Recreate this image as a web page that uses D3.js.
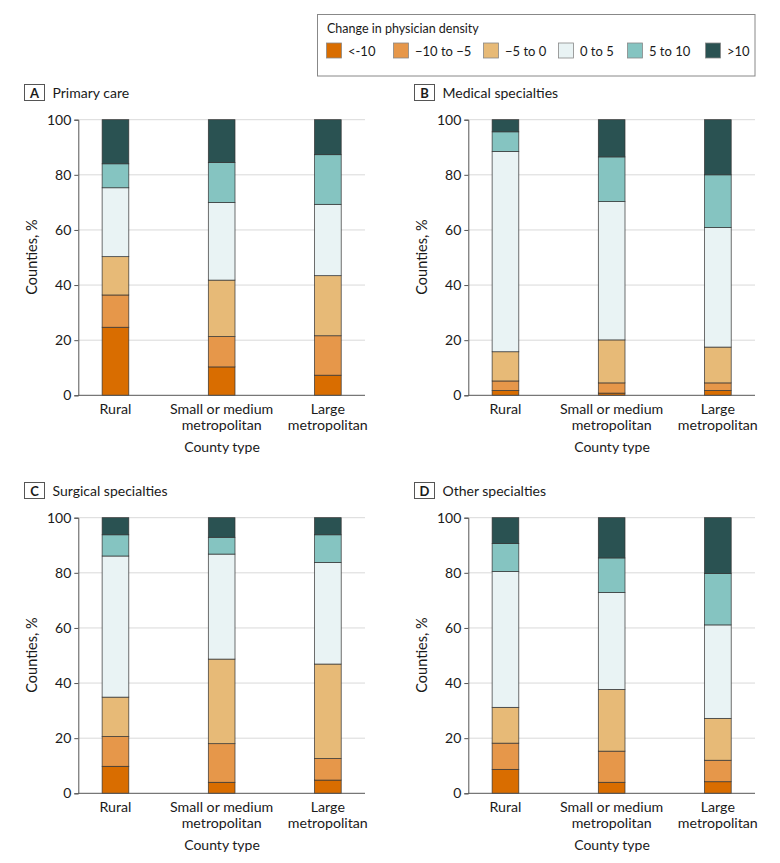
<!DOCTYPE html>
<html><head><meta charset="utf-8">
<script src="https://cdn.jsdelivr.net/npm/d3@7"></script>
<style>body{margin:0;background:#fff;}svg{display:block;font-family:Lato,"Open Sans",sans-serif;}</style>
</head><body><svg id="c" width="780" height="863"></svg>
<script>
const categories = ["Rural", "Small or medium metropolitan", "Large metropolitan"];
const catLines = [["Rural"], ["Small or medium", "metropolitan"], ["Large", "metropolitan"]];
const seriesNames = ["<-10", "−10 to −5", "−5 to 0", "0 to 5", "5 to 10", ">10"];
const seriesColors = ["#d96d00", "#e6974a", "#e7ba77", "#e9f3f4", "#85c4c1", "#2a5252"];
const yTicks = [0, 20, 40, 60, 80, 100];
const panelLetters = ["A", "B", "C", "D"];
const panelTitles = ["Primary care", "Medical specialties", "Surgical specialties", "Other specialties"];
// values per panel: rows = county type, columns = series (<-10 ... >10)
const primaryCare = [[24.7, 11.7, 13.9, 25.0, 8.7, 16.0], [10.3, 11.0, 20.5, 28.2, 14.5, 15.5], [7.3, 14.3, 21.8, 25.9, 18.0, 12.7]];
const medical = [[1.7, 3.5, 10.6, 72.7, 7.1, 4.4], [0.8, 3.7, 15.6, 50.2, 16.2, 13.5], [1.7, 2.8, 13.0, 43.4, 19.1, 20.0]];
const surgical = [[9.8, 10.8, 14.3, 51.2, 7.7, 6.2], [4.0, 14.0, 30.7, 38.1, 6.1, 7.1], [4.8, 7.8, 34.3, 36.9, 10.0, 6.2]];
const other = [[8.7, 9.5, 13.0, 49.3, 10.1, 9.4], [4.0, 11.3, 22.4, 35.2, 12.5, 14.6], [4.2, 7.8, 15.2, 33.9, 18.6, 20.3]];
const panelData = [primaryCare, medical, surgical, other];

const svg = d3.select("#c");
const textCol = "#1a1a1a";

// Legend
const lg = svg.append("g");
lg.append("rect").attr("x", 317.5).attr("y", 14.5).attr("width", 437.5).attr("height", 61.5)
  .attr("fill", "#fff").attr("stroke", "#888").attr("stroke-width", 1);
lg.append("text").attr("x", 327).attr("y", 33).attr("font-size", 12.5).attr("fill", textCol).text("Change in physician density");
const legX = [326, 393, 483, 558, 627, 705];
seriesNames.forEach((n, i) => {
  lg.append("rect").attr("x", legX[i] + 0.5).attr("y", 43).attr("width", 15).attr("height", 15)
    .attr("fill", seriesColors[i]).attr("stroke", "#888").attr("stroke-width", 0.8);
  lg.append("text").attr("x", legX[i] + 22).attr("y", 55.5).attr("font-size", 13).attr("fill", textCol).text(n);
});

const panels = [{x: 0, y: 0}, {x: 390, y: 0}, {x: 0, y: 398}, {x: 390, y: 398}];
panels.forEach((p, pi) => {
  const g = svg.append("g").attr("transform", `translate(${p.x},${p.y})`);
  const y = d3.scaleLinear().domain([0, 100]).range([395.3, 119.7]);
  const x = d3.scalePoint().domain(categories).range([78.3, 365]).padding(0.35);
  const bw = 26.7;
  // title
  g.append("rect").attr("x", 24.5).attr("y", 84.5).attr("width", 20).attr("height", 16)
    .attr("fill", "#fff").attr("stroke", "#555").attr("stroke-width", 1);
  g.append("text").attr("x", 34.5).attr("y", 97.5).attr("text-anchor", "middle").attr("font-size", 13)
    .attr("font-weight", "bold").attr("fill", textCol).text(panelLetters[pi]);
  g.append("text").attr("x", 52.5).attr("y", 97.5).attr("font-size", 14).attr("fill", textCol).text(panelTitles[pi]);
  // grid
  g.selectAll("line.grid").data(yTicks.filter(t => t > 0)).enter().append("line")
    .attr("x1", 78.3).attr("x2", 365).attr("y1", d => y(d)).attr("y2", d => y(d))
    .attr("stroke", "#d9d9d9").attr("stroke-width", 1);
  // y axis
  const ya = g.append("g").attr("transform", "translate(78.3,0)")
    .call(d3.axisLeft(y).tickValues(yTicks).tickSize(4).tickPadding(3));
  ya.select(".domain").attr("stroke", "#555");
  ya.selectAll(".tick line").attr("stroke", "#555");
  ya.selectAll("text").attr("font-size", 14).attr("fill", textCol).attr("font-family", "Lato,'Open Sans',sans-serif");
  // bars
  panelData[pi].forEach((row, ci) => {
    let cum = 0;
    row.forEach((v, si) => {
      const y0 = cum, y1 = cum + v; cum = y1;
      g.append("rect").attr("x", x(categories[ci]) - bw / 2).attr("y", y(y1)).attr("width", bw)
        .attr("height", y(y0) - y(y1)).attr("fill", seriesColors[si])
        .attr("stroke", "#333").attr("stroke-width", 0.7);
    });
  });
  // x axis line
  g.append("line").attr("x1", 78.3).attr("x2", 365).attr("y1", 395.3).attr("y2", 395.3)
    .attr("stroke", "#555").attr("stroke-width", 1);
  // category labels
  categories.forEach((c, ci) => {
    const t = g.append("text").attr("text-anchor", "middle").attr("font-size", 14.2).attr("fill", textCol);
    catLines[ci].forEach((ln, li) => {
      t.append("tspan").attr("x", x(c)).attr("y", 414 + li * 16).text(ln);
    });
  });
  g.append("text").attr("x", 222).attr("y", 451.5).attr("text-anchor", "middle").attr("font-size", 14)
    .attr("fill", textCol).text("County type");
  g.append("text").attr("transform", "translate(37,257) rotate(-90)").attr("text-anchor", "middle")
    .attr("font-size", 14.5).attr("fill", textCol).text("Counties, %");
});
</script></body></html>
